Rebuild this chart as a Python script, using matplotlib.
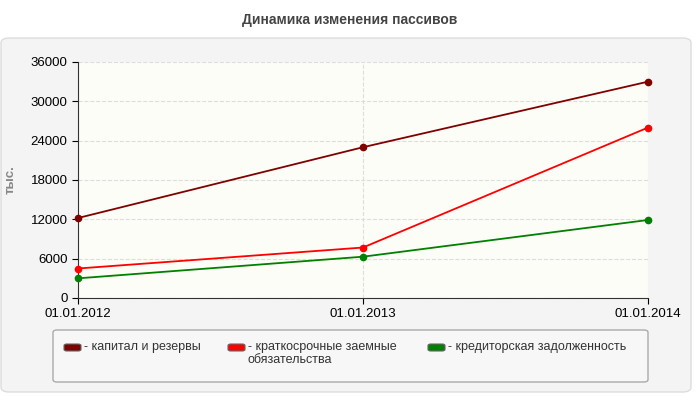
import matplotlib.pyplot as plt
from matplotlib.patches import FancyBboxPatch

plt.rcParams['font.family'] = ['Liberation Sans', 'DejaVu Sans']

dates = ["01.01.2012", "01.01.2013", "01.01.2014"]
capital = [12200, 23000, 33000]
loans = [4500, 7700, 26000]
creditors = [3000, 6300, 11900]
names = ["капитал и резервы", "краткосрочные заемные\nобязательства", "кредиторская задолженность"]
colors = ["#800000", "#ff0000", "#008000"]
yticks = [0, 6000, 12000, 18000, 24000, 30000, 36000]

W, H = 700, 400
fig = plt.figure(figsize=(7, 4), dpi=100)
fig.patch.set_facecolor("white")
fig.add_artist(FancyBboxPatch((1 / W, 8 / H), 690 / W, 354 / H, boxstyle="round,pad=0,rounding_size=0.012",
                              transform=fig.transFigure, fc="#f4f4f4", ec="#dddddd", lw=1, zorder=-10))
fig.text(350 / W, 1 - 20 / H, "Динамика изменения пассивов", ha="center", va="center",
         fontsize=10, fontweight="bold", color="#444444")

ax = fig.add_axes([78 / W, 1 - 298 / H, 570 / W, 236 / H])
ax.set_facecolor("#fdfdf8")
x = range(len(dates))
for s, c in zip([capital, loans, creditors], colors):
    ax.plot(x, s, color=c, lw=1.3, marker="o", ms=4.5, zorder=3, clip_on=False)
ax.set_xlim(0, 2)
ax.set_ylim(0, 36000)
ax.set_xticks(list(x), dates)
ax.set_yticks(yticks)
ax.tick_params(labelsize=9.5, colors="#000000", length=4)
ax.grid(True, ls="--", color="#dddddd", lw=0.8)
for sp in ["top", "right"]:
    ax.spines[sp].set_visible(False)
ax.spines["left"].set_color("#333333")
ax.spines["bottom"].set_color("#333333")
ax.set_ylabel("тыс.", fontsize=9.5, color="#888888", fontweight="bold", labelpad=10)

fig.add_artist(FancyBboxPatch((53 / W, 1 - 382 / H), 595 / W, 52 / H, boxstyle="round,pad=0,rounding_size=0.006",
                              transform=fig.transFigure, fc="#f7f7f7", ec="#aaaaaa", lw=1, zorder=-5))
lx = [64, 228, 428]
for px, n, c in zip(lx, names, colors):
    fig.add_artist(FancyBboxPatch((px / W, 1 - 351 / H), 17 / W, 7 / H, boxstyle="round,pad=0,rounding_size=0.004",
                                  transform=fig.transFigure, fc=c, ec="#666666", lw=0.8))
    fig.text((px + 20) / W, 1 - 341 / H, "- " + n, ha="left", va="top", fontsize=9, color="#333333",
             linespacing=1.1)
fig.savefig("out.png", dpi=100)
